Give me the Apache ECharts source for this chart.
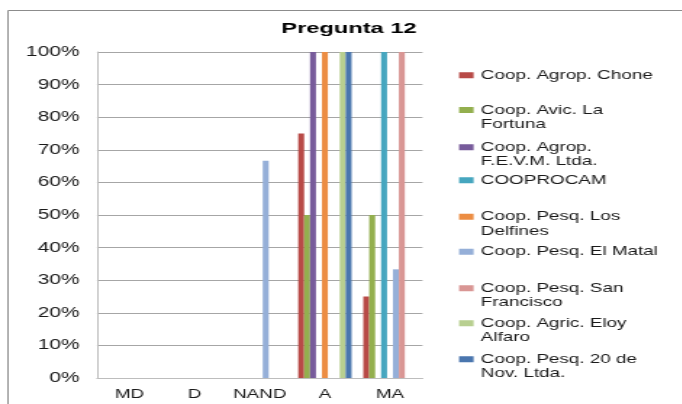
<!DOCTYPE html>
<html>
<head>
<meta charset="utf-8">
<script src="https://cdn.jsdelivr.net/npm/echarts@6/dist/echarts.min.js"></script>
<style>
html,body{margin:0;padding:0;background:#fff;overflow:hidden;}
#wrap{width:682px;height:404px;overflow:hidden;position:relative;}
#chart{width:470.345px;height:404px;transform:scaleX(1.45);transform-origin:0 0;}
</style>
</head>
<body>
<div id="wrap"><div id="chart"></div></div>
<script>
// ---- data ----
const categories = ['MD', 'D', 'NAND', 'A', 'MA'];
const seriesNames = [
  'Coop. Agrop. Chone',
  'Coop. Avic. La Fortuna',
  'Coop. Agrop. F.E.V.M. Ltda.',
  'COOPROCAM',
  'Coop. Pesq. Los Delfines',
  'Coop. Pesq. El Matal',
  'Coop. Pesq. San Francisco',
  'Coop. Agric. Eloy Alfaro',
  'Coop. Pesq. 20 de Nov. Ltda.'
];
const legendLabels = [
  'Coop. Agrop. Chone',
  'Coop. Avic. La\nFortuna',
  'Coop. Agrop.\nF.E.V.M. Ltda.',
  'COOPROCAM',
  'Coop. Pesq. Los\nDelfines',
  'Coop. Pesq. El Matal',
  'Coop. Pesq. San\nFrancisco',
  'Coop. Agric. Eloy\nAlfaro',
  'Coop. Pesq. 20 de\nNov. Ltda.'
];
const chone     = [0, 0, 0,     75,  25];
const fortuna   = [0, 0, 0,     50,  50];
const fevm      = [0, 0, 0,     100, 0];
const cooprocam = [0, 0, 0,     0,   100];
const delfines  = [0, 0, 0,     100, 0];
const matal     = [0, 0, 66.67, 0,   33.33];
const sanfran   = [0, 0, 0,     0,   100];
const eloy      = [0, 0, 0,     100, 0];
const nov20     = [0, 0, 0,     100, 0];
const seriesValues = [chone, fortuna, fevm, cooprocam, delfines, matal, sanfran, eloy, nov20];
const yTicks = [0, 10, 20, 30, 40, 50, 60, 70, 80, 90, 100];
const titleText = 'Pregunta 12';

// ---- styles ----
const SX = 1.45;
const colors = ['#B84A47', '#93AF4E', '#775B9B', '#46A6BF', '#EC8D43', '#95AFD8', '#D99694', '#B8CF90', '#4A76AE'];
const legendTops = [68, 102.9, 140.1, 173, 209.5, 244.7, 281.1, 316.1, 352.1];
const LH = 14.3;
const FONT = 'Liberation Sans, Arial, sans-serif';

const chart = echarts.init(document.getElementById('chart'));

const legends = seriesNames.map((name, i) => {
  const lines = legendLabels[i].split('\n').length;
  const h = LH * lines;
  const icon = 'path://M0,0h10v0.01h-10z M0,' + (LH / 2 - 3) + 'h10v6h-10z M0,' + (h - 0.01) + 'h10v0.01h-10z';
  return {
    data: [name],
    orient: 'vertical',
    left: 316.6,
    top: legendTops[i],
    padding: 0,
    itemWidth: 10,
    itemHeight: h,
    icon: icon,
    selectedMode: false,
    formatter: () => legendLabels[i],
    textStyle: { fontFamily: FONT, fontSize: 13, color: '#1a1a1a', lineHeight: LH }
  };
});

chart.setOption({
  animation: false,
  color: colors,
  legend: legends,
  grid: { left: 66.9, right: 178.6, top: 52, bottom: 26, containLabel: false },
  xAxis: {
    type: 'category',
    data: categories,
    axisLine: { lineStyle: { color: '#bdbdbd', width: 1 } },
    axisTick: { show: false },
    axisLabel: { interval: 0, margin: 10, fontFamily: FONT, fontSize: 13, color: '#1a1a1a' }
  },
  yAxis: {
    type: 'value',
    min: yTicks[0],
    max: yTicks[yTicks.length - 1],
    interval: yTicks[1] - yTicks[0],
    axisLine: { show: true, lineStyle: { color: '#bdbdbd', width: 1 } },
    axisTick: { show: false },
    splitLine: { lineStyle: { color: '#a6a6a6', width: 1 } },
    axisLabel: { margin: 12, formatter: '{value}%', fontFamily: FONT, fontSize: 14.5, color: '#1a1a1a' }
  },
  graphic: [{
    type: 'rect',
    shape: { x: 5.5, y: 10.5, width: 600, height: 500 },
    style: { fill: 'none', stroke: '#8c8c8c', lineWidth: 1 },
    silent: true
  }, {
    type: 'text',
    x: 349 / SX,
    y: 28.8,
    scaleX: 1.05,
    style: {
      text: titleText,
      fontFamily: FONT,
      fontSize: 15.5,
      fontWeight: 'bold',
      fill: '#000',
      align: 'center',
      verticalAlign: 'middle'
    },
    silent: true
  }],
  series: seriesNames.map((name, i) => ({
    name: name,
    type: 'bar',
    data: seriesValues[i],
    barGap: '0%',
    barCategoryGap: '18%',
    itemStyle: { color: colors[i] }
  }))
});
</script>
</body>
</html>
